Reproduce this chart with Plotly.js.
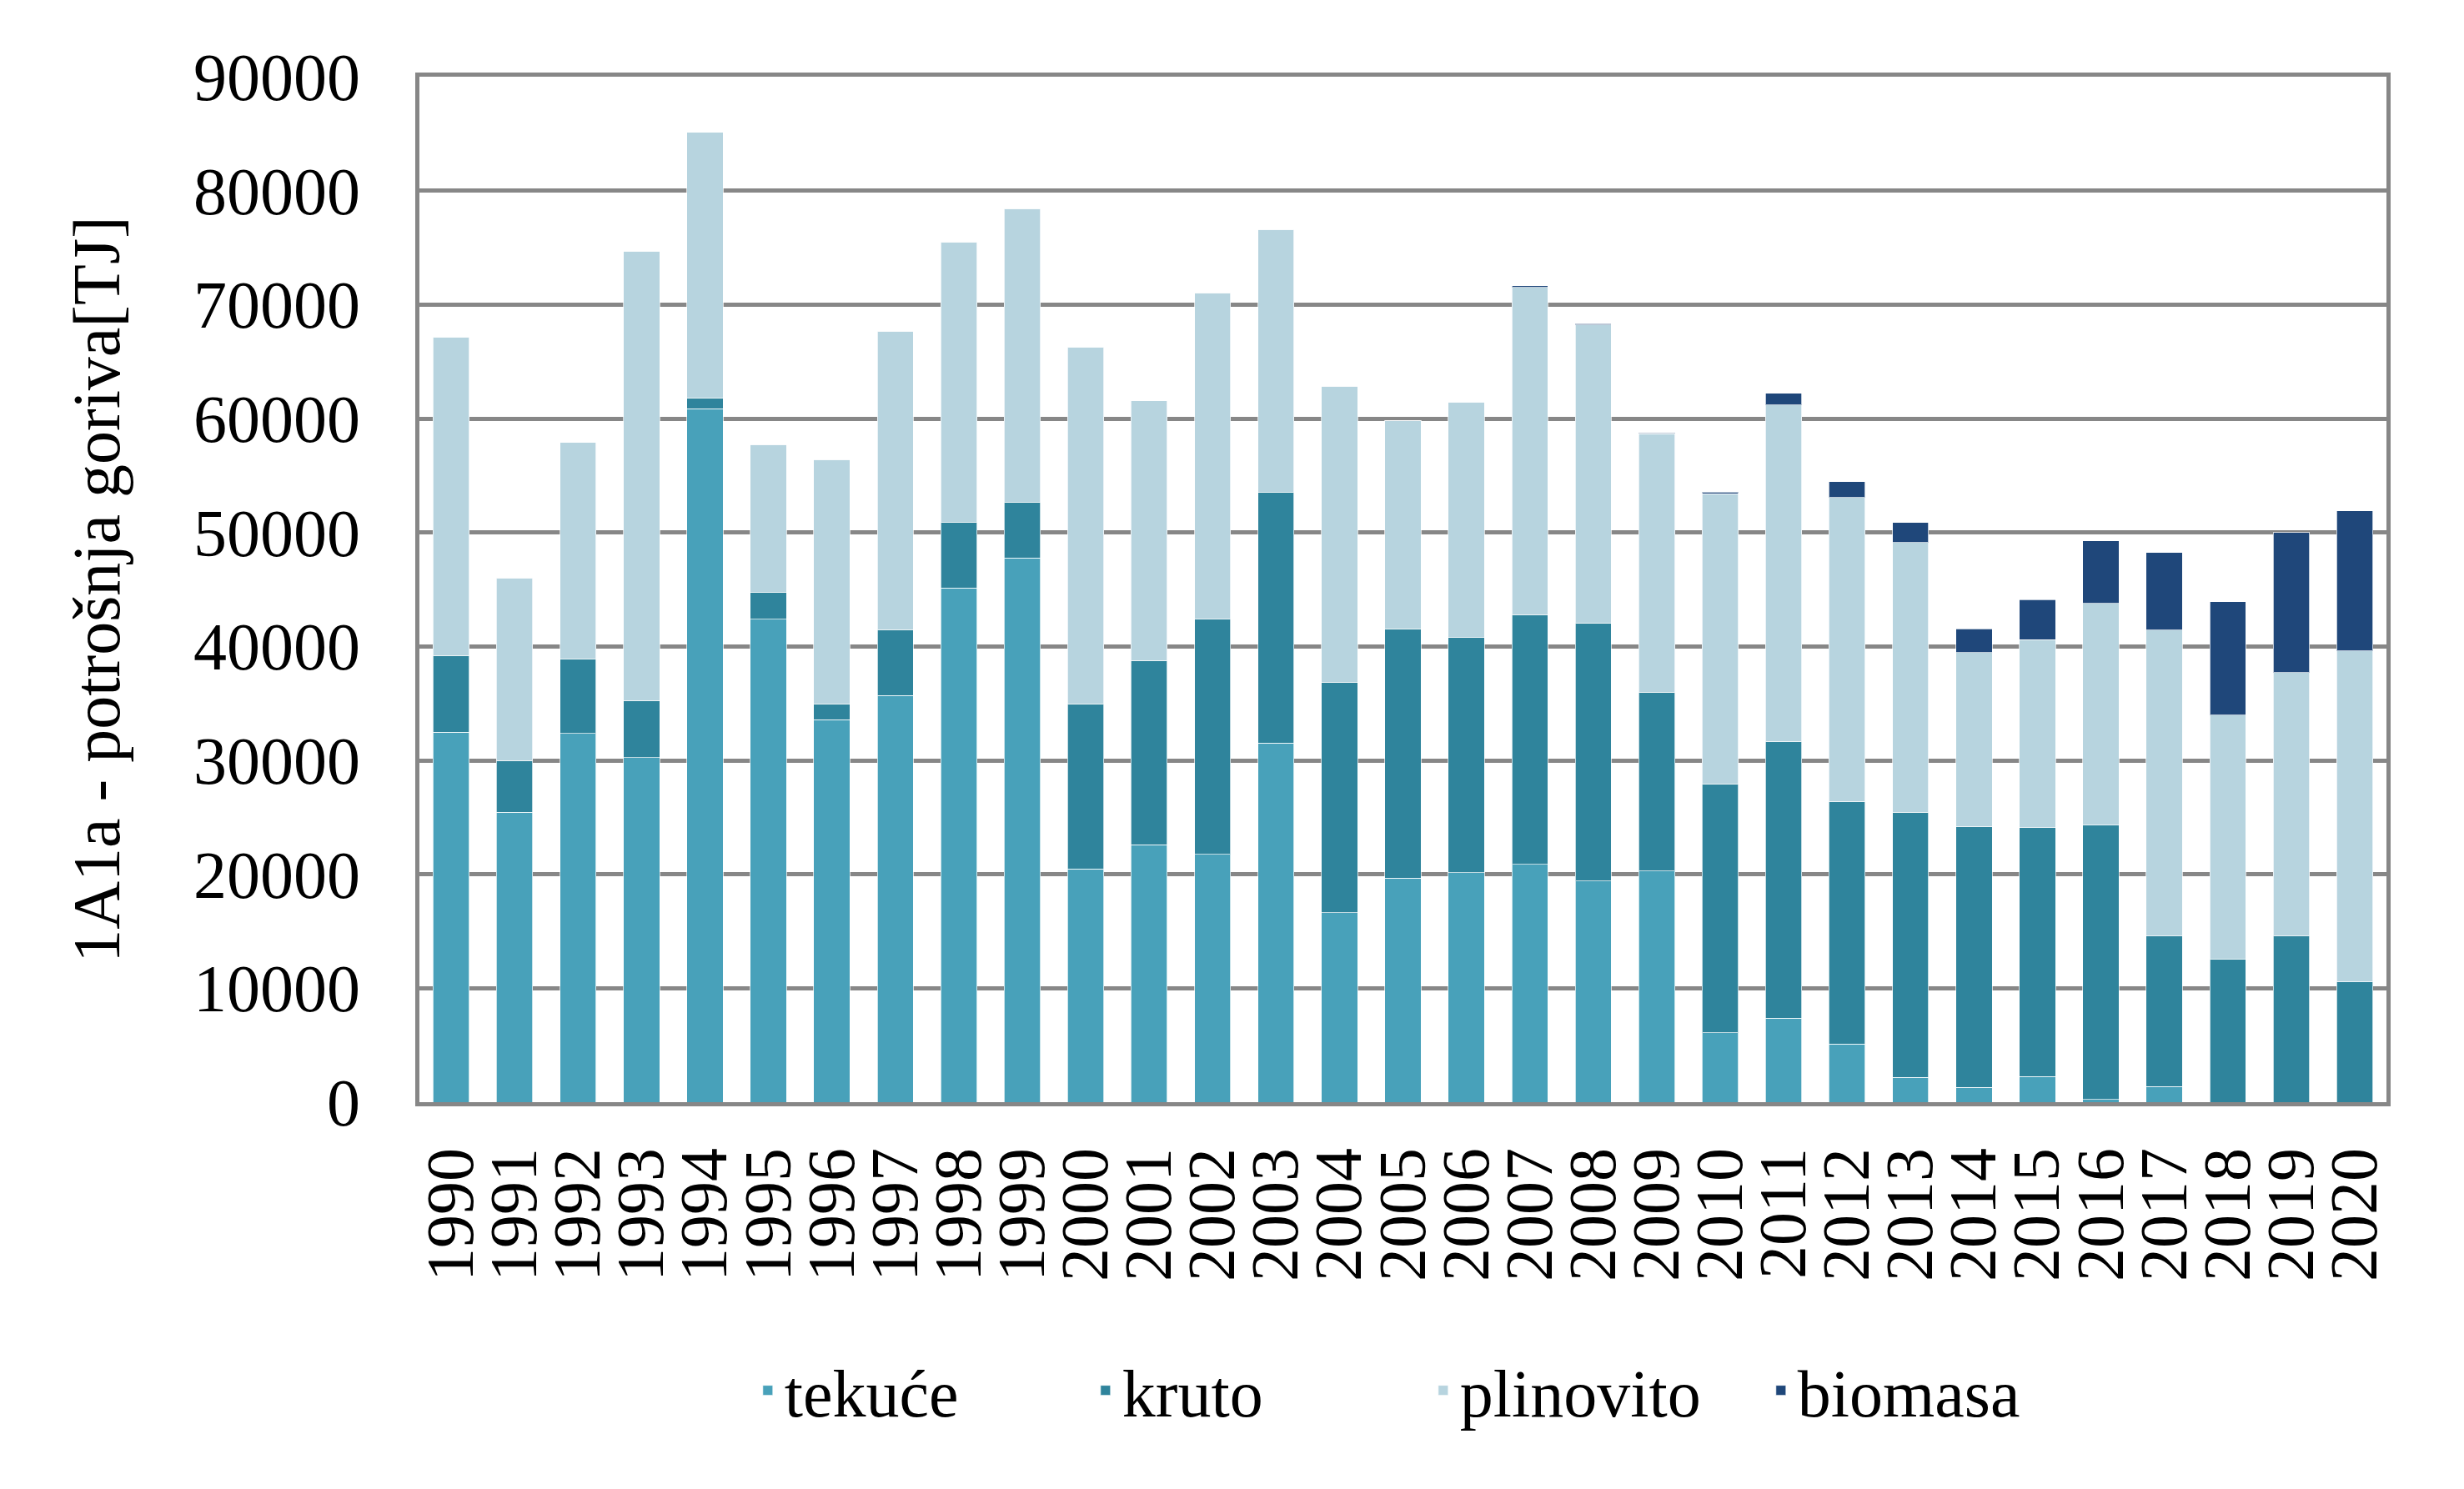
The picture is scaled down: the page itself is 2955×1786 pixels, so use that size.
<!DOCTYPE html>
<html>
<head>
<meta charset="utf-8">
<script src="https://cdn.plot.ly/plotly-3.0.1.min.js"></script>
<style>html,body{margin:0;padding:0;background:#fff;}#chart{width:2955px;height:1786px;}</style>
</head>
<body>
<div id="chart"></div>
<script>
var years = ["1990","1991","1992","1993","1994","1995","1996","1997","1998","1999","2000","2001","2002","2003","2004","2005","2006","2007","2008","2009","2010","2011","2012","2013","2014","2015","2016","2017","2018","2019","2020"];
var tekuce = [32460,25440,32370,30240,60870,42370,33560,35680,45140,47780,20460,22580,21760,31520,16630,19670,20150,20880,19420,20300,6080,7390,5110,2190,1310,2250,240,1370,0,0,0];
var kruto = [6750,4560,6530,5020,950,2400,1390,5800,5780,4900,14490,16200,20610,22040,20240,21880,20610,21910,22650,15690,21850,24280,21270,23250,22890,21850,24080,13220,12520,14590,10550];
var plinovito = [27930,16000,19000,39430,23310,12930,21450,26190,24590,25730,31340,22780,28660,23020,25960,18280,20700,28710,26130,22660,25450,29530,26690,23680,15260,16480,19460,26840,21460,23100,29050];
var biomasa = [0,0,0,0,0,0,0,0,0,0,0,0,0,0,0,0,0,150,120,100,150,1010,1400,1760,2080,3520,5470,6810,9940,12310,12290];

var seriesNames = ["tekuće","kruto","plinovito","biomasa"];
var seriesData = [tekuce, kruto, plinovito, biomasa];
var seriesColors = ["#48A1BA","#2F849C","#B7D4DF","#1F477A"];

var FONT = "Liberation Serif, Times New Roman, serif";
var traces = seriesData.map(function(d, i){
  return {
    type: "bar",
    name: seriesNames[i],
    x: years,
    y: d,
    marker: {color: seriesColors[i], line: {color: "rgba(255,255,255,0.7)", width: 1}},
    hoverinfo: "x+y+name"
  };
});

var layout = {
  width: 2955,
  height: 1786,
  barmode: "stack",
  bargap: 0.43,
  paper_bgcolor: "#ffffff",
  plot_bgcolor: "#ffffff",
  margin: {l: 503, r: 93, t: 92, b: 464},
  font: {family: FONT, color: "#000000", size: 80},
  xaxis: {
    type: "category",
    tickmode: "linear",
    tick0: 0,
    dtick: 1,
    tickangle: -90,
    tickfont: {family: FONT, size: 80, color: "#000"},
    ticks: "",
    showline: true,
    linecolor: "#878787",
    linewidth: 5,
    mirror: true,
    showgrid: false,
    ticklabelstandoff: 18
  },
  yaxis: {
    range: [0, 90000],
    dtick: 10000,
    tick0: 0,
    tickformat: "d",
    tickfont: {family: FONT, size: 80, color: "#000"},
    ticks: "",
    showline: true,
    linecolor: "#878787",
    linewidth: 5,
    mirror: true,
    showgrid: true,
    gridcolor: "#878787",
    gridwidth: 5,
    zeroline: false,
    ticklabelstandoff: 50,
    title: {text: "1A1a - potrošnja goriva[TJ]", font: {family: FONT, size: 80, color: "#000"}, standoff: 64}
  },
  legend: {
    orientation: "h",
    x: 0.512,
    xanchor: "center",
    y: -0.281,
    yanchor: "middle",
    entrywidth: 360,
    entrywidthmode: "pixels",
    font: {family: FONT, size: 80, color: "#000"},
    traceorder: "normal",
    bgcolor: "rgba(0,0,0,0)"
  },
  showlegend: true
};

Plotly.newPlot("chart", traces, layout, {displayModeBar: false, staticPlot: true});
</script>
</body>
</html>
